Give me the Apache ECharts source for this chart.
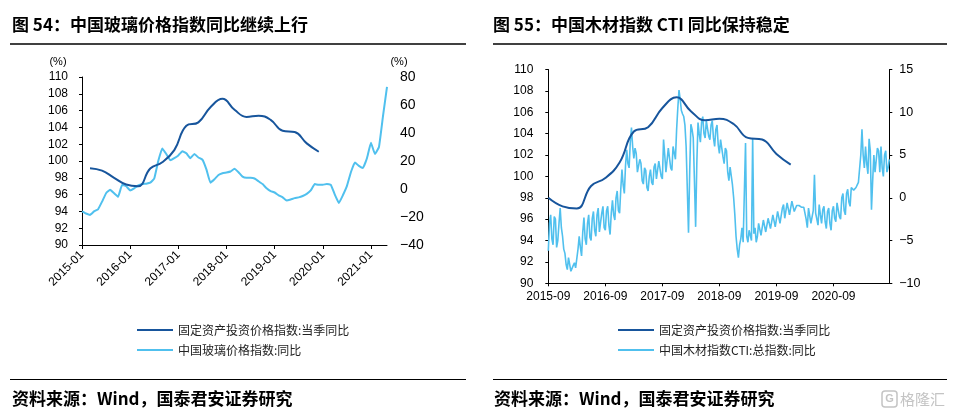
<!DOCTYPE html>
<html>
<head>
<meta charset="utf-8">
<script src="https://cdn.jsdelivr.net/npm/echarts/dist/echarts.min.js"></script>
<style>
html,body{margin:0;padding:0;background:#fff;}
#chart{width:953px;height:419px;}
</style>
</head>
<body>
<div id="chart"></div>
<script>
// ---------- data ----------
// quarterly: 固定资产投资价格指数:当季同比 (index, prior year = 100)
const investQuarters = ['2015-03','2015-06','2015-09','2015-12','2016-03','2016-06','2016-09','2016-12',
  '2017-03','2017-06','2017-09','2017-12','2018-03','2018-06','2018-09','2018-12',
  '2019-03','2019-06','2019-09','2019-12'];
const investValues = [99.15, 98.85, 98.0, 97.2, 97.0, 99.1, 99.85, 101.3,
  104.2, 104.6, 106.4, 107.4, 106.1, 105.25, 105.4, 104.9,
  103.6, 103.45, 102.1, 101.1];

// monthly 2015-01 .. 2021-05: 中国玻璃价格指数:同比 (%)
const glassYoY = [-16, -17.5, -18.5, -16, -14.5, -9, -3, -0.6, -3, -5.5,
  3, 2, -1, 0.5, 2.5, 3.5, 3.8, 4.5, 7.5, 20,
  29, 25, 20.5, 22, 24, 27, 25.5, 22, 25, 22.5,
  21, 14, 4.5, 7, 10, 11.3, 11.8, 12.5, 14.5, 12,
  8.8, 8, 8, 7.5, 5.5, 3.5, 0.5, -1.5, -2.5, -4.5,
  -6, -8.3, -7.5, -6.5, -6, -5, -3.5, -1, 3.5, 3,
  3, 3.6, 3, -4, -10, -4.5, 2, 12, 19, 16.5,
  15, 22, 33, 25, 30, 52, 73];

// weekly (4 per month) 2015-09 .. 2021-08: 中国木材指数CTI:总指数:同比 (%)
const ctiYoY = [
  -6.2,-3.0,-2.0,-4.8,-5.5,-2.2,-2.5,-5.8,-5.0,-3.0, -1.2,-3.5,-4.5,-6.0,-6.5,-7.8,-8.4,-7.0,-7.2,-8.6,
  -8.5,-7.9,-7.6,-8.2,-8.0,-6.0,-4.5,-5.8,-6.8,-4.0,
  -2.3,-4.8,-5.5,-3.0,-2.0,-4.6,-5.0,-2.4,-1.6,-3.8, -4.5,-2.0,-1.2,-4.0,-4.2,-1.8,-1.0,-3.5,-3.8,-1.5,
  -1.0,-3.2,-4.3,-1.8,-0.3,-2.0,-2.6,0.0,0.8,-1.5,
  -1.8,1.0,3.3,1.5,0.5,3.8,5.6,4.0,3.5,6.5,8.2,6.0,
  4.6,5.8,5.2,3.0,2.8,4.5,4.0,2.0,1.6,3.5, 3.2,1.2,0.8,2.5,3.3,1.8,1.5,3.6,4.0,2.2,
  2.0,4.3,4.3,2.5,2.2,6.8,5.0,3.0,3.0,5.8, 5.8,3.5,3.2,6.0,6.0,4.5,8.0,10.5,
  12.6,11.5,10.2,9.8,9.5,8.5,6.0,1.0,-4.1,3.0, 8.6,8.0,7.0,2.0,-3.4,4.0,8.8,7.5,
  6.5,8.8,9.5,7.5,7.0,9.0,9.2,7.2,6.8,8.5, 9.0,7.0,6.0,8.0,8.5,6.2,
  5.2,6.8,7.0,4.8,4.0,5.8,5.5,3.0,2.0,3.6, 3.8,1.5,0.0,-2.0,-4.5,-6.0,
  -7.0,-5.5,-4.8,-3.5,-5.2,-5.0,6.4,-4.5,-5.2,-3.8, -4.0,-5.0,7.0,-4.2,-3.5,-5.2,-4.5,-3.0,
  -2.8,-4.4,-4.6,-2.6,-2.5,-4.0,-4.2,-2.4,-2.2,-3.6, -3.8,-2.0,-1.8,-3.4,-3.5,-1.6,-1.5,-3.0,-3.0,-1.2,
  -0.8,-2.4,-2.2,-0.6,-0.5,-2.0,-1.8,-0.4,-0.6,-1.6, -1.5,-0.9,
  -0.8,-0.9,-1.0,-1.1,-1.2,-1.1,-1.0,-2.5,
  -3.5,-1.2,-1.0,-3.0,-3.2,-1.5,2.7,-1.8,-2.5,-3.2, -0.8,-2.0,-3.0,-1.4,-1.0,-2.8,-3.6,-1.6,-1.2,-3.0,
  -3.8,-1.5,
  -1.0,-2.4,-2.8,-0.6,-0.5,-2.2,-2.5,0.0,0.5,-1.5, -2.0,0.5,1.0,-0.5,-1.0,1.2,1.0,0.9,0.8,1.2,
  1.5,1.8,2.0,5.0,
  8.0,5.0,3.5,6.0,4.0,2.8,6.9,5.5,-1.4,2.0, 5.0,3.0,2.8,5.8,5.5,3.0,6.0,3.5,2.5,5.0,
  5.5,3.0,3.5,4.5
];

const leftRange = {min: 90, max: 110, interval: 2};
const glassRange = {min: -40, max: 80, interval: 20};
const ctiRange = {min: -10, max: 15, interval: 5};

const nameInvest = '固定资产投资价格指数:当季同比';
const nameGlass = '中国玻璃价格指数:同比';
const nameCti = '中国木材指数CTI:总指数:同比';

// category labels
const months = [];
for (let y = 2015; y <= 2021; y++) {
  for (let m = 1; m <= 12; m++) {
    if (y === 2021 && m > 5) break;
    months.push(y + '-' + String(m).padStart(2, '0'));
  }
}
const weeks = [];
for (let y = 2015; y <= 2021; y++) {
  for (let m = 1; m <= 12; m++) {
    if (y === 2015 && m < 9) continue;
    if (y === 2021 && m > 8) break;
    const mm = y + '-' + String(m).padStart(2, '0');
    weeks.push(mm + '-01', mm + '-08', mm + '-16', mm + '-23');
  }
}

// ---------- styles ----------
const DARK = '#17559c';
const LIGHT = '#50c0ee';
const AX = '#000';
const numFont = 'Liberation Sans, Arial, sans-serif';
const cjk = '"Noto Sans CJK SC", sans-serif';
const minus = v => String(v).replace('-', '\u2212');

const chart = echarts.init(document.getElementById('chart'), null, {renderer: 'canvas'});

const legendCommon = {
  orient: 'vertical', itemWidth: 36, itemHeight: 14, itemGap: 8,
  itemStyle: {opacity: 0},
  textStyle: {fontSize: 12, color: '#222', fontFamily: cjk}
};

const option = {
  animation: false,
  backgroundColor: '#fff',
  grid: [
    {left: 82, top: 77, width: 305, height: 168},
    {left: 548.3, top: 69.5, width: 341, height: 213.8}
  ],
  xAxis: [
    {
      type: 'category', gridIndex: 0, data: months, boundaryGap: false,
      axisLine: {onZero: false, lineStyle: {color: AX, width: 1}},
      axisTick: {interval: 11, length: 4, lineStyle: {color: AX}},
      axisLabel: {interval: 11, rotate: 45, fontSize: 12, color: '#000', margin: 8, fontFamily: numFont},
      splitLine: {show: false}
    },
    {
      type: 'category', gridIndex: 1, data: weeks, boundaryGap: false,
      axisLine: {onZero: false, lineStyle: {color: AX, width: 1}},
      axisTick: {interval: 47, length: 3, lineStyle: {color: AX}},
      axisLabel: {interval: 47, fontSize: 12, color: '#000', margin: 7, fontFamily: numFont,
        formatter: v => v.slice(0, 7)},
      splitLine: {show: false}
    }
  ],
  yAxis: [
    {
      type: 'value', gridIndex: 0, position: 'left',
      min: leftRange.min, max: leftRange.max, interval: leftRange.interval,
      axisLine: {show: true, onZero: false, lineStyle: {color: AX}},
      axisTick: {show: true, length: 3, lineStyle: {color: AX}},
      axisLabel: {fontSize: 12, color: '#000', margin: 14, fontFamily: numFont},
      splitLine: {show: false}
    },
    {
      type: 'value', gridIndex: 0, position: 'right',
      min: glassRange.min, max: glassRange.max, interval: glassRange.interval,
      axisLine: {show: false, onZero: false}, axisTick: {show: false},
      axisLabel: {fontSize: 14, color: '#000', margin: 13, fontFamily: numFont, formatter: minus},
      splitLine: {show: false}
    },
    {
      type: 'value', gridIndex: 1, position: 'left',
      min: leftRange.min, max: leftRange.max, interval: leftRange.interval,
      axisLine: {show: true, onZero: false, lineStyle: {color: AX}},
      axisTick: {show: true, length: 3, lineStyle: {color: AX}},
      axisLabel: {fontSize: 12, color: '#000', margin: 15, fontFamily: numFont},
      splitLine: {show: false}
    },
    {
      type: 'value', gridIndex: 1, position: 'right',
      min: ctiRange.min, max: ctiRange.max, interval: ctiRange.interval,
      axisLine: {show: true, onZero: false, lineStyle: {color: AX}},
      axisTick: {show: true, length: 3, lineStyle: {color: AX}},
      axisLabel: {fontSize: 12.5, color: '#000', margin: 10, fontFamily: numFont, formatter: minus},
      splitLine: {show: false}
    }
  ],
  legend: [
    Object.assign({left: 131, top: 319, data: [nameInvest, nameGlass]}, legendCommon),
    Object.assign({left: 612, top: 319, data: [nameInvest, nameCti]}, legendCommon)
  ],
  series: [
    {
      name: nameGlass, type: 'line', xAxisIndex: 0, yAxisIndex: 1,
      data: glassYoY, symbol: 'none', smooth: 0.1,
      lineStyle: {color: LIGHT, width: 2}, itemStyle: {color: LIGHT}
    },
    {
      name: nameInvest, type: 'line', xAxisIndex: 0, yAxisIndex: 0,
      data: investQuarters.map((q, i) => [q, investValues[i]]),
      symbol: 'none', smooth: 0.45,
      lineStyle: {color: DARK, width: 2}, itemStyle: {color: DARK}
    },
    {
      name: nameCti, type: 'line', xAxisIndex: 1, yAxisIndex: 3,
      data: ctiYoY, symbol: 'none',
      lineStyle: {color: LIGHT, width: 1.6}, itemStyle: {color: LIGHT}
    },
    {
      name: nameInvest, type: 'line', xAxisIndex: 1, yAxisIndex: 2,
      data: investQuarters.map((q, i) => [q, investValues[i]])
        .filter(d => d[0] >= '2015-09')
        .map(d => [d[0] + '-01', d[1]]),
      symbol: 'none', smooth: 0.45,
      lineStyle: {color: DARK, width: 2}, itemStyle: {color: DARK}
    }
  ],
  graphic: [
    {type: 'text', x: 12, y: 25, style: {text: '图 54：中国玻璃价格指数同比继续上行', font: 'bold 17px ' + cjk, fill: '#000', verticalAlign: 'middle'}},
    {type: 'text', x: 493, y: 25, style: {text: '图 55：中国木材指数 CTI 同比保持稳定', font: 'bold 17px ' + cjk, fill: '#000', verticalAlign: 'middle'}},
    {type: 'line', shape: {x1: 10, y1: 44, x2: 466, y2: 44}, style: {stroke: '#000', lineWidth: 1.5}},
    {type: 'line', shape: {x1: 493, y1: 44, x2: 947, y2: 44}, style: {stroke: '#000', lineWidth: 1.5}},
    {type: 'text', x: 58, y: 62, style: {text: '(%)', font: '11px ' + numFont, fill: '#000', align: 'center', verticalAlign: 'middle'}},
    {type: 'text', x: 399, y: 62, style: {text: '(%)', font: '11px ' + numFont, fill: '#000', align: 'center', verticalAlign: 'middle'}},
    {type: 'line', shape: {x1: 10, y1: 379.5, x2: 466, y2: 379.5}, style: {stroke: '#000', lineWidth: 1.2}},
    {type: 'line', shape: {x1: 493, y1: 379.5, x2: 947, y2: 379.5}, style: {stroke: '#000', lineWidth: 1.2}},
    {type: 'text', x: 12, y: 398.5, style: {text: '资料来源：Wind，国泰君安证券研究', font: 'bold 17px ' + cjk, fill: '#000', verticalAlign: 'middle'}},
    {type: 'text', x: 494, y: 398.5, style: {text: '资料来源：Wind，国泰君安证券研究', font: 'bold 17px ' + cjk, fill: '#000', verticalAlign: 'middle'}},
    {type: 'rect', shape: {x: 882, y: 391, width: 15, height: 16, r: 3}, style: {stroke: '#c4c4c4', fill: 'none', lineWidth: 1.5}},
    {type: 'text', x: 889.5, y: 399, style: {text: 'G', font: 'bold 11px ' + numFont, fill: '#c4c4c4', align: 'center', verticalAlign: 'middle'}},
    {type: 'text', x: 900, y: 399, style: {text: '格隆汇', font: '15px ' + cjk, fill: '#c4c4c4', verticalAlign: 'middle'}}
  ]
};
chart.setOption(option);
</script>
</body>
</html>
